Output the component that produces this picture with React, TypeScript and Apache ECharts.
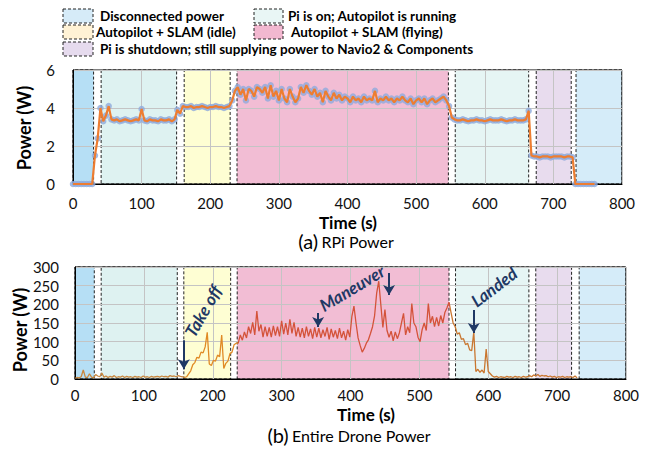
import React, { useEffect, useRef } from "react";
import * as echarts from "echarts";

// ---------- Data ----------
// RPi power (W), sampled every 4 s, per phase (start time in s)
const rpiStep = 4;
const rpiOffStart = 0;
const rpiOffValues = [0, 0, 0, 0, 0, 0, 0, 0];
const rpiBootStart = 32;
const rpiBootValues = [1.5, 2.4, 4.0, 3.3, 3.6, 4.1, 3.4];
const rpiAutopilotStart = 60;
const rpiAutopilotValues = [3.35, 3.4, 3.3, 3.35, 3.4, 3.35, 3.3, 3.35, 3.4, 3.35, 3.95, 3.35, 3.3, 3.4, 3.35, 3.35, 3.3, 3.4, 3.35, 3.35, 3.4, 3.3, 3.4];
const rpiIdleStart = 152;
const rpiIdleValues = [3.9, 3.7, 4.1, 4.05, 4.05, 4.1, 4.0, 4.05, 4.05, 4.1, 4.05, 4.0, 4.05, 4.05, 4.1, 4.05, 4.05, 4.0, 4.05, 4.1, 4.4, 4.9];
const rpiFlyingStart = 240;
const rpiFlyingValues = [5.1, 4.7, 5.0, 4.4, 5.0, 4.9, 4.6, 5.1, 5.0, 4.8, 5.1, 4.5, 5.2, 4.6, 4.9, 4.4, 5.0, 4.5, 4.3, 5.0, 4.6, 4.3, 4.5, 5.1, 4.8, 5.2, 4.9, 4.7, 5.0, 4.6, 4.8, 4.3, 4.9, 4.6, 4.4, 4.8, 4.5, 4.7, 4.4, 4.6, 4.5, 4.3, 4.6, 4.4, 4.5, 4.3, 4.6, 4.4, 4.5, 4.4, 4.9, 4.3, 4.5, 4.4, 4.6, 4.4, 4.5, 4.3, 4.5, 4.4, 4.6, 4.4, 4.3, 4.5, 4.2, 4.4, 4.5, 4.3, 4.5, 4.2, 4.4, 4.5, 4.3, 4.4, 4.5, 4.6, 4.4];
const rpiLandedStart = 548;
const rpiLandedValues = [4.1, 3.5, 3.4, 3.35, 3.35, 3.4, 3.35, 3.3, 3.35, 3.35, 3.4, 3.35, 3.35, 3.3, 3.35, 3.4, 3.35, 3.35, 3.35, 3.4, 3.35, 3.3, 3.35, 3.35, 3.4, 3.35, 3.35, 3.35, 3.4, 3.85];
const rpiShutdownStart = 668;
const rpiShutdownValues = [1.5, 1.45, 1.45, 1.4, 1.45, 1.45, 1.45, 1.4, 1.45, 1.45, 1.45, 1.45, 1.4, 1.45, 1.45, 1.4];
const rpiUnpluggedStart = 732;
const rpiUnpluggedValues = [0, 0, 0, 0, 0, 0, 0, 0];

// Entire drone power (W), sampled every 3 s, per phase
const droneStep = 3;
const droneGroundStart = 0;
const droneGroundValues = [2, 4, 3, 6, 24, 5, 4, 14, 5, 3, 12, 8, 6, 16, 5, 8, 4, 7, 5, 9, 4, 6, 5, 8, 4, 7, 5, 6, 4, 7, 5, 6, 4, 8, 5, 6, 4, 7, 5, 6, 7, 5, 8, 6, 7, 5, 9, 7, 8, 6, 9, 7, 6];
const droneTakeoffStart = 159;
const droneTakeoffValues = [4, 6, 14, 22, 38, 44, 58, 56, 72, 70, 86, 125, 40, 36, 50, 48, 64, 60, 118, 28, 42, 48, 68, 72, 92, 96];
const droneFlyingStart = 237;
const droneFlyingValues = [
  96, 118, 104, 126, 110, 140, 122, 152, 118, 182, 128, 146, 112, 140, 114, 138, 112, 142, 116, 140, 114, 156,
  120, 150, 118, 160, 122, 152, 114, 138, 112, 136, 110, 140, 114, 134, 108, 138, 112, 136, 110, 132, 114, 138, 106, 134, 112, 130, 108, 136, 110, 128, 104, 132, 112,
  168, 195, 150, 110, 90, 72, 82, 96, 105, 122, 140, 170, 230, 262, 200, 138, 186, 130, 112, 128, 102, 126, 108, 124, 150, 176, 118, 140, 124, 202, 150, 140, 112, 100, 132, 150, 130, 202, 150, 168, 140, 165, 142, 170, 150, 178, 190, 206,
];
const droneLandingStart = 546;
const droneLandingValues = [178, 150, 140, 120, 124, 106, 108, 92, 96, 78, 76, 126, 20, 26, 18, 24, 16, 80, 20, 14, 8, 5, 7, 4, 6, 5, 4, 7, 5, 6, 4, 7, 5, 6, 4, 7, 5, 6, 9, 6, 11, 8, 12, 7, 10, 8, 9, 6, 8, 5, 7, 4, 6, 5, 7, 4, 6, 5, 6, 4, 8, 3];

// Phases (start, end in s)
const phaseNames = [
  "Disconnected power",
  "Pi is on; Autopilot is running",
  "Autopilot + SLAM (idle)",
  "Autopilot + SLAM (flying)",
  "Pi is shutdown; still supplying power to Navio2 & Components",
];
const rpiPhaseBounds = [[0, 30], [41, 151], [162, 229], [239, 547], [557, 664], [675, 726], [733, 800]];
const dronePhaseBounds = [[0, 28], [38, 148.5], [158, 226], [235.5, 543], [552.5, 659], [669, 721], [732, 800]];
const phaseColors = [
  "rgba(164,215,243,0.8)",
  "rgba(214,239,238,0.8)",
  "rgba(254,254,200,0.8)",
  "rgba(239,173,201,0.8)",
  "rgba(224,243,241,0.8)",
  "rgba(226,211,234,0.8)",
  "rgba(203,231,248,0.8)",
];

// Annotation arrows: time (s), arrow top (W), arrow tip (W)
const annotationArrows = [
  [158, 104, 26],
  [353, 177, 139],
  [456, 284, 225],
  [579, 185, 123],
];
const annotationLabels = ["Take off", "Maneuver", "Landed"];

const xTicks = { min: 0, max: 800, interval: 100 };

// ---------- helpers ----------
const pairs = (start: number, step: number, values: number[]) =>
  values.map((v, i) => [start + i * step, v]);

const FONT = "Lato, 'Open Sans', sans-serif";
const NAVY = "#1F3864";

export default function App() {
  const ref = useRef<HTMLDivElement>(null);

  useEffect(() => {
    if (!ref.current) return;
    const chart = echarts.init(ref.current, undefined, { renderer: "svg" });

    const rpiData = [
      ...pairs(rpiOffStart, rpiStep, rpiOffValues),
      ...pairs(rpiBootStart, rpiStep, rpiBootValues),
      ...pairs(rpiAutopilotStart, rpiStep, rpiAutopilotValues),
      ...pairs(rpiIdleStart, rpiStep, rpiIdleValues),
      ...pairs(rpiFlyingStart, rpiStep, rpiFlyingValues),
      ...pairs(rpiLandedStart, rpiStep, rpiLandedValues),
      ...pairs(rpiShutdownStart, rpiStep, rpiShutdownValues),
      ...pairs(rpiUnpluggedStart, rpiStep, rpiUnpluggedValues),
    ];
    const droneData = [
      ...pairs(droneGroundStart, droneStep, droneGroundValues),
      ...pairs(droneTakeoffStart, droneStep, droneTakeoffValues),
      ...pairs(droneFlyingStart, droneStep, droneFlyingValues),
      ...pairs(droneLandingStart, droneStep, droneLandingValues),
    ];

    const areas = (bounds: number[][]) =>
      bounds.map((b, i) => [
        {
          xAxis: b[0],
          itemStyle: {
            color: phaseColors[i],
            borderColor: "#222",
            borderWidth: 1,
            borderType: [3, 2],
          },
        },
        { xAxis: b[1] },
      ]);

    const axisLabelStyle = { color: "#111", fontSize: 15, fontFamily: FONT };
    const splitLine = { show: true, lineStyle: { color: "#C4C4C4", width: 1 } };

    const legendRows = [
      { x: 63, y: 9, w: 30, color: "#D6EBF8", tx: 100, text: phaseNames[0] },
      { x: 254, y: 9, w: 29, color: "#E9F6F5", tx: 288, text: phaseNames[1] },
      { x: 63, y: 25, w: 30, color: "#FFF2D5", tx: 96, text: phaseNames[2] },
      { x: 254, y: 25, w: 29, color: "#F2B8D0", tx: 291, text: phaseNames[3] },
      { x: 63, y: 42, w: 30, color: "#E6DBEE", tx: 100, text: phaseNames[4] },
    ];
    const legendGraphics: any[] = [];
    legendRows.forEach((r) => {
      legendGraphics.push({
        type: "rect",
        z: 50,
        shape: { x: r.x, y: r.y, width: r.w, height: 14 },
        style: { fill: r.color, stroke: "#222", lineWidth: 1, lineDash: [3, 2] },
      });
      legendGraphics.push({
        type: "text",
        z: 50,
        x: r.tx,
        y: r.y + 7,
        style: {
          text: r.text,
          fill: "#000",
          font: `bold 13.5px ${FONT}`,
          textVerticalAlign: "middle",
          textAlign: "left",
        },
      });
    });

    const textEl = (text: string, x: number, y: number, font: string, rotation = 0, fill = "#000") => ({
      type: "text",
      z: 100,
      x,
      y,
      rotation,
      style: { text, font, fill, textAlign: "center", textVerticalAlign: "middle" },
    });

    const option: any = {
      animation: false,
      textStyle: { fontFamily: FONT },
      grid: [
        { left: 73, top: 70, width: 549, height: 114, show: true, borderColor: "#000", borderWidth: 1 },
        { left: 75, top: 267, width: 551, height: 112, show: true, borderColor: "#000", borderWidth: 1 },
      ],
      xAxis: [0, 1].map((g) => ({
        type: "value",
        gridIndex: g,
        ...xTicks,
        axisLine: { show: true, onZero: false, lineStyle: { color: "#000" } },
        axisTick: { show: false },
        axisLabel: { ...axisLabelStyle, margin: g === 0 ? 11 : 8 },
        splitLine,
      })),
      yAxis: [
        {
          type: "value",
          gridIndex: 0,
          min: 0,
          max: 6,
          interval: 2,
          axisLine: { show: true, lineStyle: { color: "#000" } },
          axisTick: { show: false },
          axisLabel: { ...axisLabelStyle, margin: 18 },
          splitLine,
        },
        {
          type: "value",
          gridIndex: 1,
          min: 0,
          max: 300,
          interval: 50,
          axisLine: { show: true, lineStyle: { color: "#000" } },
          axisTick: { show: false },
          axisLabel: { ...axisLabelStyle, margin: 16 },
          splitLine,
        },
      ],
      visualMap: [
        {
          type: "piecewise",
          show: false,
          dimension: 0,
          seriesIndex: 4,
          pieces: [
            { lt: 158, color: "#C8873F" },
            { gte: 158, lt: 236, color: "#E08A25" },
            { gte: 236, lt: 545, color: "#D4533A" },
            { gte: 545, color: "#C9762F" },
          ],
        },
      ],
      series: [
        {
          type: "line",
          xAxisIndex: 0,
          yAxisIndex: 0,
          data: [],
          z: -1,
          silent: true,
          markArea: { silent: true, z: -1, data: areas(rpiPhaseBounds) },
        },
        {
          name: "RPi samples",
          type: "scatter",
          xAxisIndex: 0,
          yAxisIndex: 0,
          data: rpiData,
          symbolSize: 6.5,
          itemStyle: { color: "#8FAADC" },
          z: 3,
        },
        {
          name: "RPi power",
          type: "line",
          xAxisIndex: 0,
          yAxisIndex: 0,
          data: rpiData,
          showSymbol: false,
          lineStyle: { color: "#ED7D31", width: 2.2 },
          z: 4,
        },
        {
          type: "line",
          xAxisIndex: 1,
          yAxisIndex: 1,
          data: [],
          z: -1,
          silent: true,
          markArea: { silent: true, z: -1, data: areas(dronePhaseBounds) },
        },
        {
          name: "Drone power",
          type: "line",
          xAxisIndex: 1,
          yAxisIndex: 1,
          data: droneData,
          showSymbol: false,
          lineStyle: { width: 1.3 },
          z: 3,
          markLine: {
            silent: true,
            z: 5,
            symbol: ["none", "arrow"],
            symbolSize: [9, 10],
            label: { show: false },
            lineStyle: { color: NAVY, width: 2, type: "solid" },
            data: annotationArrows.map((a) => [
              { coord: [a[0], a[1]] },
              { coord: [a[0], a[2]] },
            ]),
          },
        },
      ],
      graphic: [
        ...legendGraphics,
        textEl("Power (W)", 24, 128, `bold 18px ${FONT}`, Math.PI / 2),
        textEl("Power (W)", 20, 330, `bold 18px ${FONT}`, Math.PI / 2),
        textEl("Time (s)", 348, 222, `bold 17px ${FONT}`),
        textEl("Time (s)", 366, 414, `bold 17px ${FONT}`),
        {
          type: "text",
          z: 100,
          x: 346,
          y: 241,
          style: {
            text: "{p|(a)} {t|RPi Power}",
            textAlign: "center",
            textVerticalAlign: "middle",
            rich: {
              p: { fontSize: 20, fontFamily: FONT, fill: "#000" },
              t: { fontSize: 16, fontFamily: FONT, fill: "#000" },
            },
          },
        },
        {
          type: "text",
          z: 100,
          x: 349,
          y: 435,
          style: {
            text: "{p|(b)} {t|Entire Drone Power}",
            textAlign: "center",
            textVerticalAlign: "middle",
            rich: {
              p: { fontSize: 20, fontFamily: FONT, fill: "#000" },
              t: { fontSize: 16, fontFamily: FONT, fill: "#000" },
            },
          },
        },
        textEl(annotationLabels[0], 203, 311, `italic bold 17px ${FONT}`, (60 * Math.PI) / 180, NAVY),
        textEl(annotationLabels[1], 352, 288, `italic bold 17px ${FONT}`, (31 * Math.PI) / 180, NAVY),
        textEl(annotationLabels[2], 494, 287, `italic bold 17px ${FONT}`, (37 * Math.PI) / 180, NAVY),
      ],
    };

    chart.setOption(option);
    return () => chart.dispose();
  }, []);

  return (
    <div
      ref={ref}
      style={{ position: "fixed", left: 0, top: 0, width: 645, height: 453, background: "#fff" }}
    />
  );
}
